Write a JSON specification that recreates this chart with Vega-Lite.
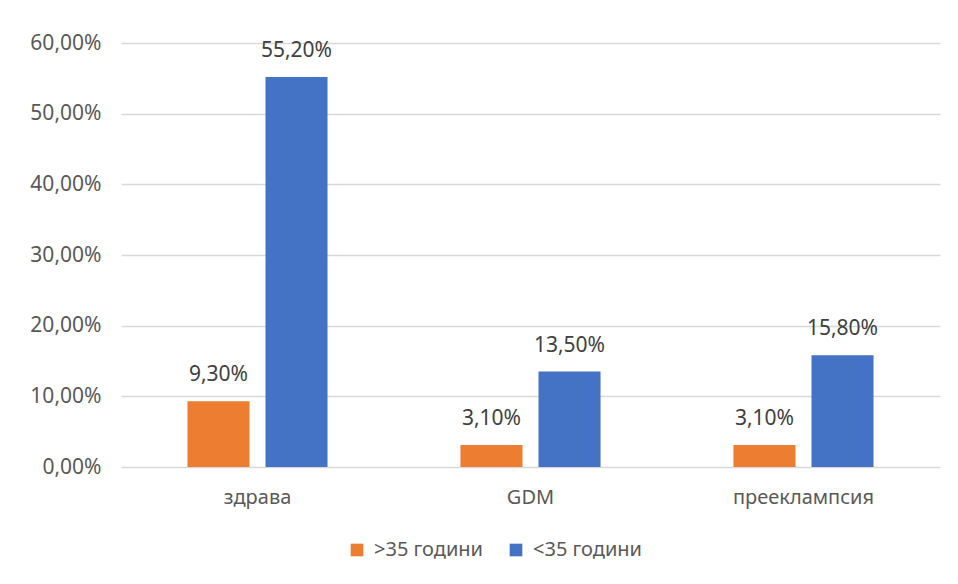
{
  "$schema": "https://vega.github.io/schema/vega-lite/v6.json",
  "autosize": "none",
  "width": 819,
  "height": 424,
  "padding": {"left": 121, "top": 43, "right": 18, "bottom": 117},
  "background": "white",
  "config": {
    "locale": {"number": {"decimal": ",", "thousands": " ", "grouping": [3], "currency": ["", " €"]}},
    "view": {"stroke": null},
    "font": "Noto Sans"
  },
  "data": {"values": [
    {"cat": "здрава", "group": ">35 години", "value": 0.093},
    {"cat": "здрава", "group": "<35 години", "value": 0.552},
    {"cat": "GDM", "group": ">35 години", "value": 0.031},
    {"cat": "GDM", "group": "<35 години", "value": 0.135},
    {"cat": "прееклампсия", "group": ">35 години", "value": 0.031},
    {"cat": "прееклампсия", "group": "<35 години", "value": 0.158}
  ]},
  "encoding": {
    "x": {"field": "cat", "type": "nominal", "sort": ["здрава", "GDM", "прееклампсия"],
      "scale": {"paddingInner": 0.487, "paddingOuter": 0.2435},
      "axis": {"title": null, "labelAngle": 0, "domain": false, "ticks": false, "grid": false,
        "labelFont": "Noto Sans", "labelFontSize": 20, "labelColor": "#595959", "labelPadding": 20}},
    "xOffset": {"field": "group", "type": "nominal", "sort": [">35 години", "<35 години"],
      "scale": {"paddingInner": 0.205, "paddingOuter": 0}},
    "y": {"field": "value", "type": "quantitative",
      "scale": {"domain": [0, 0.6], "nice": false},
      "axis": {"title": null, "format": ".2%", "values": [0, 0.1, 0.2, 0.3, 0.4, 0.5, 0.6], "labelOverlap": false,
        "domain": false, "ticks": false, "gridColor": "#d9d9d9", "gridWidth": 1.5,
        "labelFont": "Noto Sans", "labelFontSize": 21, "labelColor": "#595959", "labelPadding": 20}}
  },
  "layer": [
    {
      "mark": {"type": "bar"},
      "encoding": {
        "color": {"field": "group", "type": "nominal", "sort": [">35 години", "<35 години"],
          "scale": {"domain": [">35 години", "<35 години"], "range": ["#ED7D31", "#4472C4"]},
          "legend": {"title": null, "orient": "none", "direction": "horizontal", "legendX": 226, "legendY": 497,
            "symbolType": "square", "symbolSize": 160, "symbolStrokeWidth": 0, "labelFont": "Noto Sans",
            "labelFontSize": 20, "labelColor": "#595959", "columnPadding": 22, "labelOffset": 7}}
      }
    },
    {
      "mark": {"type": "text", "baseline": "bottom", "dy": -16, "fontSize": 21, "color": "#404040", "font": "Noto Sans"},
      "encoding": {"text": {"field": "value", "type": "quantitative", "format": ".2%"}}
    }
  ]
}
